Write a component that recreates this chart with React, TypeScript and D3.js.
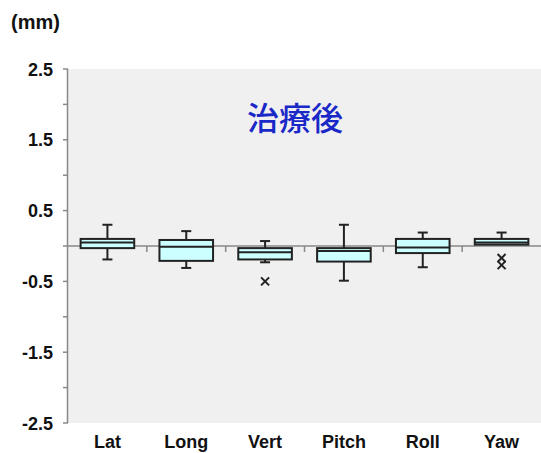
import React from "react";
import * as d3 from "d3";

const categories = ["Lat", "Long", "Vert", "Pitch", "Roll", "Yaw"];
const whiskerHigh = [0.30, 0.21, 0.07, 0.30, 0.19, 0.19];
const q3 = [0.10, 0.085, -0.03, -0.03, 0.10, 0.10];
const median = [0.05, -0.01, -0.09, -0.07, -0.02, 0.05];
const q1 = [-0.03, -0.21, -0.19, -0.22, -0.10, 0.02];
const whiskerLow = [-0.19, -0.31, -0.23, -0.49, -0.30, 0.02];
const outliers: number[][] = [[], [], [-0.5], [], [], [-0.17, -0.27]];
const tickValues = [2.5, 1.5, 0.5, -0.5, -1.5, -2.5];
const minorTicks = [2.5, 2, 1.5, 1, 0.5, 0, -0.5, -1, -1.5, -2, -2.5];

export default function App() {
  const W = 541, H = 453;
  const left = 68, right = 541, top = 69, bottom = 423;
  const y = d3.scaleLinear().domain([-2.5, 2.5]).range([bottom, top]);
  const x = d3.scaleBand().domain(categories).range([left, right]).paddingInner(0.32).paddingOuter(0.16);
  const bandStep = (right - left) / categories.length;
  const font = "Arial, 'Liberation Sans', sans-serif";
  const boxStroke = "#222";
  return (
    <svg width={W} height={H} style={{ position: "absolute", left: 0, top: 0, background: "#fff" }}>
      <rect x={left} y={top} width={right - left} height={bottom - top} fill="#f0f0f0" />
      {/* y axis */}
      <line x1={left - 0.5} x2={left - 0.5} y1={top} y2={bottom} stroke="#888" strokeWidth={1.5} />
      {minorTicks.map((t) => (
        <line key={t} x1={left - 5} x2={left} y1={y(t)} y2={y(t)} stroke="#888" strokeWidth={1.5} />
      ))}
      {tickValues.map((t) => (
        <text key={t} x={53} y={y(t) + 6.5} textAnchor="end" fontFamily={font} fontWeight="bold" fontSize={18} fill="#111">
          {t.toFixed(1)}
        </text>
      ))}
      {/* zero line */}
      <line x1={left} x2={right} y1={y(0)} y2={y(0)} stroke="#888" strokeWidth={1.5} />
      {categories.slice(1).map((c, i) => (
        <line key={c} x1={left + bandStep * (i + 1)} x2={left + bandStep * (i + 1)} y1={y(0)} y2={y(0) + 6} stroke="#888" strokeWidth={1.5} />
      ))}
      {/* boxes */}
      {categories.map((c, i) => {
        const bx = x(c)!;
        const bw = x.bandwidth();
        const cx = bx + bw / 2;
        const cap = 5;
        return (
          <g key={c}>
            <line x1={cx} x2={cx} y1={y(whiskerHigh[i])} y2={y(q3[i])} stroke={boxStroke} strokeWidth={2} />
            <line x1={cx - cap} x2={cx + cap} y1={y(whiskerHigh[i])} y2={y(whiskerHigh[i])} stroke={boxStroke} strokeWidth={2} />
            {whiskerLow[i] < q1[i] && (
              <>
                <line x1={cx} x2={cx} y1={y(q1[i])} y2={y(whiskerLow[i])} stroke={boxStroke} strokeWidth={2} />
                <line x1={cx - cap} x2={cx + cap} y1={y(whiskerLow[i])} y2={y(whiskerLow[i])} stroke={boxStroke} strokeWidth={2} />
              </>
            )}
            <rect x={bx} y={y(q3[i])} width={bw} height={y(q1[i]) - y(q3[i])} fill="#ccffff" stroke={boxStroke} strokeWidth={2} />
            <line x1={bx} x2={bx + bw} y1={y(median[i])} y2={y(median[i])} stroke={boxStroke} strokeWidth={2} />
            {outliers[i].map((o, j) => (
              <g key={j} transform={`translate(${cx},${y(o)})`} stroke={boxStroke} strokeWidth={2}>
                <line x1={-4} y1={-4} x2={4} y2={4} />
                <line x1={-4} y1={4} x2={4} y2={-4} />
              </g>
            ))}
          </g>
        );
      })}
      {/* category labels */}
      {categories.map((c) => (
        <text key={c} x={x(c)! + x.bandwidth() / 2} y={448} textAnchor="middle" fontFamily={font} fontWeight="bold" fontSize={18} fill="#111">
          {c}
        </text>
      ))}
      <text x={11} y={29} fontFamily={font} fontWeight="bold" fontSize={20} fill="#111">(mm)</text>
      <text x={295} y={130} textAnchor="middle" fontFamily="'Noto Sans CJK JP', sans-serif" fontWeight="500" fontSize={32} fill="#1a28c8">治療後</text>
    </svg>
  );
}
